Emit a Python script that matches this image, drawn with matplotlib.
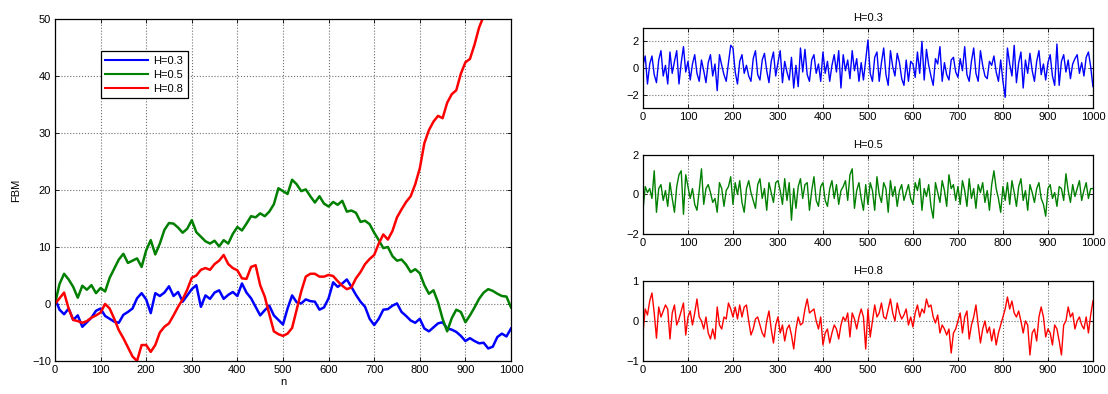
import numpy as np
import matplotlib
matplotlib.use("Agg")
import matplotlib.pyplot as plt

plt.rcParams['font.family'] = ['Liberation Sans', 'DejaVu Sans']
plt.rcParams['font.size'] = 8

# fBm paths, sampled every 10 steps
n_path = np.arange(0, 1001, 10)
fbm_03 = [1.0, -1.0, -1.8, -0.8, -2.8, -2.0, -4.0, -3.2, -2.4, -1.2,
          -0.8, -2.1, -2.6, -3.1, -3.3, -1.9, -1.4, -0.8, 1.0, 1.9,
          0.8, -1.6, 1.9, 1.4, 2.0, 3.1, 1.4, 2.1, 0.4, 1.5,
          2.6, 3.3, -0.5, 1.5, 0.9, 2.0, 2.4, 0.9, 1.6, 2.1,
          1.4, 3.6, 2.0, 1.0, -0.5, -2.0, -1.1, -0.3, -2.0, -2.8,
          -3.6, -0.8, 1.5, 0.3, 0.1, 0.8, 0.5, 0.4, -1.0, -0.6,
          1.0, 3.8, 3.0, 3.6, 4.3, 3.0, 1.6, 0.4, -0.5, -2.6,
          -3.7, -2.6, -1.0, -0.9, -0.3, 0.1, -1.4, -2.1, -2.9, -3.3,
          -2.6, -4.3, -4.8, -4.1, -3.4, -3.2, -4.3, -4.5, -4.9, -5.6,
          -6.5, -6.0, -6.5, -6.9, -6.8, -7.8, -7.5, -5.8, -5.2, -5.7,
          -4.3]
fbm_05 = [0.0, 3.5, 5.3, 4.3, 3.0, 1.1, 3.2, 2.5, 3.3, 1.9,
          2.8, 2.2, 4.6, 6.2, 7.8, 8.8, 7.2, 7.6, 8.0, 6.5,
          9.4, 11.2, 8.7, 10.6, 13.0, 14.2, 14.1, 13.4, 12.5, 13.2,
          14.7, 12.6, 11.8, 11.0, 10.6, 11.1, 10.1, 11.2, 10.6, 12.3,
          13.5, 12.9, 14.1, 15.4, 15.2, 15.9, 15.4, 16.2, 17.5, 20.3,
          19.8, 19.3, 21.8, 21.0, 19.8, 20.1, 18.9, 17.8, 18.9, 17.6,
          17.1, 17.9, 17.4, 18.1, 16.2, 16.4, 16.0, 14.4, 14.6, 14.0,
          12.5, 11.2, 9.8, 10.0, 8.4, 7.6, 7.8, 6.9, 5.6, 6.1,
          5.4, 3.3, 1.8, 2.4, 0.3, -2.6, -4.8, -2.5, -1.0, -1.4,
          -3.2, -2.0, -0.6, 0.9, 2.0, 2.6, 2.3, 1.8, 1.4, 1.3,
          -0.6]
fbm_08 = [0.0, 1.0, 2.0, -0.8, -2.8, -3.0, -3.3, -3.0, -2.4, -2.0,
          -1.5, 0.0, -0.8, -2.6, -4.6, -6.0, -7.6, -9.2, -10.0, -7.2,
          -7.2, -8.4, -7.2, -5.0, -4.0, -3.4, -2.0, -0.5, 0.8, 2.5,
          4.6, 5.0, 6.0, 6.3, 6.0, 7.0, 7.6, 8.6, 7.0, 6.3,
          5.9, 4.5, 4.4, 6.5, 6.8, 3.3, 1.3, -1.8, -4.8, -5.3,
          -5.6, -5.2, -4.2, -1.0, 2.2, 4.8, 5.3, 5.3, 4.8, 4.8,
          5.1, 4.9, 4.0, 3.2, 2.6, 2.9, 4.5, 5.6, 7.0, 7.9,
          8.6, 10.6, 12.2, 11.3, 12.8, 15.2, 16.6, 17.9, 18.9, 21.0,
          23.8, 28.2, 30.5, 32.0, 33.0, 32.6, 35.3, 36.8, 37.5, 40.4,
          42.4, 43.0, 45.5, 48.5, 50.5, 52.5, 54.8, 56.6, 58.5, 60.2,
          61.5]

# fGn increments, sampled every 5 steps
n_inc = np.arange(0, 1001, 5)
fgn_03 = [0.2, 0.9, -1.2, 0.3, 0.9, -0.5, -1.1, 0.6, 1.3, -0.6, 0.2, -1.2, 1.2, -0.4, 0.5, 1.3, -1.2, 0.4, 1.6, -0.3,
          0.5, -0.9, 0.3, 1.0, -0.4, -1.0, 0.6, -0.2, -1.1, 0.4, 1.0, -0.6, 0.3, -1.7, 1.0, 0.2, -0.5, -1.0, 0.4, 1.7,
          1.5, -0.3, -1.2, 0.5, 1.0, -0.4, 0.2, -0.6, -1.0, 0.7, 1.3, -0.5, -0.9, 0.6, 1.1, -0.2, -1.1, 0.5, 1.2, -0.6,
          0.4, 1.3, -1.1, 0.5, -0.3, -0.9, 0.8, -1.5, 0.2, -1.4, 1.5, -0.3, 1.4, -0.5, -1.0, 0.6, 1.0, -0.4, 0.3, -1.0,
          1.2, -0.4, 0.5, -1.0, 0.2, 1.0, -0.3, 1.3, -1.5, 1.0, -0.2, 0.6, -0.8, 1.3, -0.2, 0.7, -1.0, 0.4, -0.9, 0.6,
          2.1, -0.4, -1.0, 0.8, 1.2, -1.0, 0.4, 1.5, -0.5, -1.3, 1.3, 0.1, -0.6, 1.1, 0.4, -0.8, -1.3, 0.6, -1.0, 0.5,
          0.3, -0.7, 1.2, -0.4, 2.0, -0.9, 1.4, 0.2, -0.6, -1.3, 0.7, 0.3, 1.6, -1.0, 0.4, -0.5, -0.9, 0.6, 0.8, -0.3,
          -0.7, 0.7, -0.2, 1.6, -0.5, -1.0, 0.5, 1.5, -0.4, -1.0, 1.3, 0.2, -0.6, -0.8, 0.5, 0.2, 0.9, -0.3, -1.0, 0.6,
          -1.0, -2.2, 1.5, 0.3, -0.6, 1.7, -1.1, 0.4, 1.2, -1.5, 0.6, -0.4, 1.1, -0.2, -1.0, 0.5, 1.3, -0.5, 0.3, -0.9,
          0.4, 1.0, -0.6, -1.3, 1.8, -1.3, 0.5, 1.0, -0.3, 0.6, -0.8, 0.3, 0.7, 1.0, -0.4, 0.4, -0.6, 0.8, 1.2, 0.1,
          -1.4]
fgn_05 = [-0.8, 0.4, 0.1, 0.3, -0.2, 1.2, -0.9, 0.3, 0.5, -0.3, 0.2, -0.6, 0.6, -0.2, -0.9, 0.4, 1.0, 1.2, -1.0, 1.0,
          0.4, -0.2, 0.3, -0.5, -0.8, 0.2, 1.3, -0.5, 0.3, 0.5, 0.1, -0.4, -0.2, -0.9, 0.6, 0.3, -0.6, 0.2, 0.4, 0.9,
          -0.5, 0.6, 0.0, 0.7, -0.4, -0.9, 0.3, 0.7, 0.1, -0.3, -0.7, 0.5, 0.8, -0.2, 0.3, -0.8, 0.6, 0.1, -0.4, 0.6,
          0.7, 0.2, -0.5, 0.8, -0.3, 0.6, -1.3, 0.3, -0.7, 0.4, 0.8, -0.2, 0.5, 0.6, -0.8, 0.2, 0.9, -0.3, -0.6, 0.4,
          0.6, -0.3, -0.6, 0.3, 0.7, -0.2, 0.5, -0.5, 0.2, 0.4, 0.7, -0.3, 1.0, 1.3, -0.7, 0.2, 0.6, -0.2, -0.8, 0.5,
          -0.5, 0.6, 0.2, -0.8, 0.9, 0.0, -0.4, 0.6, 0.3, -0.9, 0.7, -0.1, 0.4, -0.6, 0.2, 0.5, -0.3, 0.1, 0.5, -0.2,
          -0.5, 0.6, 0.2, 0.8, -0.8, 0.3, -0.1, 0.5, -0.6, -1.2, 0.6, 0.1, -0.4, 0.7, 0.2, -0.6, 1.0, 0.3, 0.5, -0.3,
          0.4, -0.5, 0.7, 0.2, -0.6, 0.8, -0.2, 0.3, -0.7, 0.5, 0.1, 0.6, -0.4, 0.2, -0.8, 0.5, 1.2, 0.3, -0.2, -0.9,
          0.4, -0.3, 0.6, -0.5, 0.7, 0.1, -0.6, 0.4, 0.8, -0.3, 0.2, -0.8, 0.5, 0.1, -0.4, 0.3, 0.6, -0.2, -0.5, -1.1,
          0.3, 0.5, -0.2, 0.1, -0.6, 0.4, 0.3, -0.3, 1.05, 0.2, -0.4, 0.5, -0.1, 0.3, 0.7, -0.3, 0.2, 0.6, -0.2, 0.3,
          0.3]
fgn_08 = [-0.3, 0.3, 0.15, 0.5, 0.7, 0.2, -0.43, 0.35, 0.1, 0.25, 0.4, 0.3, -0.45, 0.2, 0.4, -0.1, 0.05, 0.25, 0.45, -0.35,
          0.1, 0.25, -0.1, 0.2, 0.55, 0.1, 0.0, -0.2, 0.1, -0.3, -0.45, -0.2, -0.45, 0.35, -0.1, -0.2, 0.1, 0.05, 0.45, 0.3,
          0.1, 0.35, 0.05, 0.4, 0.1, 0.35, 0.4, 0.0, -0.35, -0.2, 0.05, 0.1, -0.1, -0.3, -0.4, 0.0, 0.25, -0.2, -0.55, -0.1,
          0.1, -0.3, -0.1, -0.5, -0.2, -0.1, -0.35, -0.7, -0.2, 0.1, -0.1, -0.05, 0.3, 0.55, 0.2, 0.25, 0.3, 0.0, -0.2, 0.1,
          -0.6, -0.3, -0.2, -0.55, -0.3, -0.1, -0.2, -0.45, -0.1, 0.1, 0.0, 0.2, -0.4, 0.2, 0.05, -0.2, 0.1, 0.3, 0.1, -0.7,
          0.3, -0.4, 0.0, 0.4, 0.1, 0.2, 0.45, 0.1, 0.05, 0.3, 0.55, 0.2, 0.0, 0.45, 0.2, 0.05, 0.15, 0.3, -0.1, 0.1,
          -0.15, 0.2, 0.4, 0.1, 0.3, 0.2, 0.55, 0.35, 0.4, 0.1, -0.05, 0.15, -0.3, -0.1, -0.2, -0.35, -0.2, -0.8, -0.3, -0.2,
          0.0, 0.2, -0.3, 0.1, 0.25, -0.45, -0.1, 0.1, 0.4, -0.1, -0.55, -0.2, 0.0, -0.3, -0.15, -0.5, -0.2, -0.6, -0.3, -0.1,
          0.1, 0.3, 0.6, 0.3, 0.5, 0.2, 0.1, 0.25, 0.0, -0.3, 0.0, -0.1, -0.85, -0.3, -0.2, -0.5, 0.1, 0.35, 0.1, -0.4,
          -0.2, -0.3, -0.6, -0.1, -0.2, -0.5, -0.85, -0.1, 0.0, 0.35, 0.1, 0.2, -0.2, 0.0, 0.1, -0.1, -0.2, 0.1, -0.3, 0.15,
          0.5]

labels = ['H=0.3', 'H=0.5', 'H=0.8']
colors = ['#0000ff', '#008000', '#ff0000']
x_ticks = np.arange(0, 1001, 100)


def style_axes(ax):
    ax.set_xlim(0, 1000)
    ax.set_xticks(x_ticks)
    ax.grid(True, color='#707070', linestyle=':', linewidth=0.8)
    ax.tick_params(direction='in', top=True, right=True, length=3, width=0.6,
                   labelsize=8, pad=3)
    for s in ax.spines.values():
        s.set_linewidth(0.9)


fig = plt.figure(figsize=(11.08, 3.94), dpi=100)

# left: fractional Brownian motion paths
ax = fig.add_axes([0.0496, 0.0838, 0.4116, 0.868])
for y, lab, c in zip([fbm_03, fbm_05, fbm_08], labels, colors):
    ax.plot(n_path, y, color=c, linewidth=1.8, label=lab)
style_axes(ax)
ax.set_ylim(-10, 50)
ax.set_yticks(np.arange(-10, 51, 10))
ax.set_xlabel('n', labelpad=1)
ax.set_ylabel('FBM', labelpad=8)
leg = ax.legend(loc='upper left', bbox_to_anchor=(0.101, 0.905), fontsize=8,
                handlelength=3.8, handletextpad=0.5, borderpad=0.4,
                labelspacing=0.35, fancybox=False, framealpha=1,
                edgecolor='black', borderaxespad=0)
leg.get_frame().set_linewidth(0.9)
for line in leg.get_lines():
    line.set_linewidth(1.5)

# right: the increments for each Hurst exponent
right_axes = [
    ([0.5803, 0.7259, 0.4061, 0.2030], fgn_03, (-3, 3), [-2, 0, 2]),
    ([0.5803, 0.4061, 0.4061, 0.2005], fgn_05, (-2, 2), [-2, 0, 2]),
    ([0.5803, 0.0838, 0.4061, 0.2030], fgn_08, (-1, 1), [-1, 0, 1]),
]
for (rect, y, ylim, yt), lab, c in zip(right_axes, labels, colors):
    a = fig.add_axes(rect)
    a.plot(n_inc, y, color=c, linewidth=1.0)
    style_axes(a)
    a.set_ylim(*ylim)
    a.set_yticks(yt)
    a.set_title(lab, fontsize=8, pad=5)

fig.savefig('out.png', dpi=100)
